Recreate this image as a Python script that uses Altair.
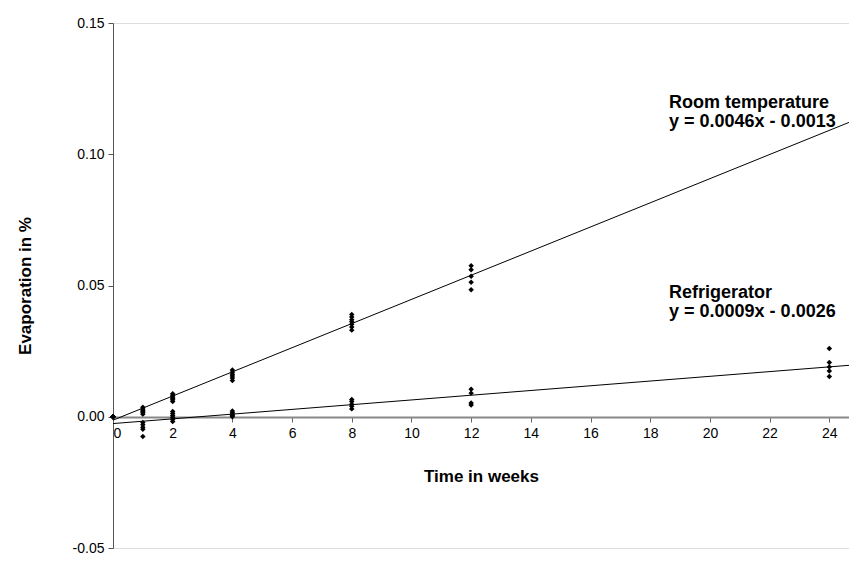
import altair as alt
import pandas as pd

# --- data ---
room_weeks = [0]*5 + [1]*6 + [2]*6 + [4]*6 + [8]*7 + [12]*5
room_vals = [0, 0, 0, 0, 0,
             0.0010, 0.0015, 0.0020, 0.0025, 0.0030, 0.0036,
             0.0058, 0.0065, 0.0070, 0.0075, 0.0082, 0.0088,
             0.0138, 0.0148, 0.0155, 0.0162, 0.0170, 0.0178,
             0.0330, 0.0342, 0.0352, 0.0362, 0.0370, 0.0380, 0.0390,
             0.0484, 0.0512, 0.0535, 0.0560, 0.0575]

fridge_weeks = [0]*3 + [1]*5 + [2]*6 + [4]*5 + [8]*5 + [12]*4 + [24]*5
fridge_vals = [0, 0, 0,
               -0.0022, -0.0030, -0.0040, -0.0048, -0.0075,
               -0.0018, -0.0010, -0.0002, 0.0005, 0.0012, 0.0020,
               0.0000, 0.0005, 0.0010, 0.0015, 0.0022,
               0.0030, 0.0040, 0.0048, 0.0058, 0.0066,
               0.0045, 0.0052, 0.0090, 0.0105,
               0.0153, 0.0174, 0.0190, 0.0207, 0.0260]

series_names = ["Room temperature", "Refrigerator"]
slopes = [0.0046, 0.0009]
intercepts = [-0.0013, -0.0026]
equations = ["y = 0.0046x - 0.0013", "y = 0.0009x - 0.0026"]
x_ticks = list(range(0, 25, 2))
y_ticks = [-0.05, 0.0, 0.05, 0.10, 0.15]

X_MAX = 24.66
W, H = 736, 525

pts = pd.DataFrame({
    "week": room_weeks + fridge_weeks,
    "evap": room_vals + fridge_vals,
    "series": [series_names[0]] * len(room_weeks) + [series_names[1]] * len(fridge_weeks),
})

lines = pd.DataFrame({
    "series": [s for s in series_names for _ in (0, 1)],
    "slope": [m for m in slopes for _ in (0, 1)],
    "intercept": [b for b in intercepts for _ in (0, 1)],
    "week": [0, X_MAX] * 2,
})

ann = pd.DataFrame({
    "series": series_names,
    "eq": equations,
    "x": [18.63, 18.63],
    "y1": [0.1195, 0.0471],
    "y2": [0.1123, 0.0399],
})

FONT = "Liberation Sans"

xscale = alt.Scale(domain=[0, X_MAX], nice=False, zero=False)
yscale = alt.Scale(domain=[-0.05, 0.15], nice=False)

x_axis = alt.Axis(
    values=x_ticks, title="Time in weeks", grid=False, offset=-131,
    domainColor="#888888", domainWidth=2, tickColor="#666666", tickSize=5,
    labelFont=FONT, labelFontSize=14, labelColor="black", labelPadding=4,
    titleFont=FONT, titleFontSize=17, titleFontWeight="bold", titleColor="black",
    titlePadding=28,
)
y_axis = alt.Axis(
    values=y_ticks, title="Evaporation in %", grid=False,
    labelExpr="datum.value < 0 ? '-' + format(-datum.value, '.2f') : format(datum.value, '.2f')",
    domainColor="#555555", tickColor="#555555", tickSize=5,
    labelFont=FONT, labelFontSize=14, labelColor="black", labelPadding=4,
    titleFont=FONT, titleFontSize=17, titleFontWeight="bold", titleColor="black",
    titlePadding=38,
)

points = alt.Chart(pts).mark_point(shape="diamond", filled=True, color="black", size=30, opacity=1).encode(
    x=alt.X("week:Q", scale=xscale, axis=x_axis),
    y=alt.Y("evap:Q", scale=yscale, axis=y_axis),
)

trend = alt.Chart(lines).transform_calculate(
    fit="datum.slope * datum.week + datum.intercept"
).mark_line(color="black", strokeWidth=1, clip=True).encode(
    x=alt.X("week:Q", scale=xscale),
    y=alt.Y("fit:Q", scale=yscale),
    detail="series:N",
)

name_text = alt.Chart(ann).mark_text(align="left", baseline="middle", font=FONT, fontSize=18,
                                     fontWeight="bold", color="black").encode(
    x=alt.X("x:Q", scale=xscale), y=alt.Y("y1:Q", scale=yscale), text="series:N")
eq_text = alt.Chart(ann).mark_text(align="left", baseline="middle", font=FONT, fontSize=18,
                                   fontWeight="bold", color="black").encode(
    x=alt.X("x:Q", scale=xscale), y=alt.Y("y2:Q", scale=yscale), text="eq:N")

chart = alt.layer(trend, points, name_text, eq_text).properties(
    width=W, height=H,
    autosize=alt.AutoSizeParams(type="none"),
    padding={"left": 105, "top": 15, "right": 0, "bottom": 7},
).configure_view(stroke=None).configure(background="white")

chart.save("out.html", embed_options={"renderer": "svg", "actions": False})
